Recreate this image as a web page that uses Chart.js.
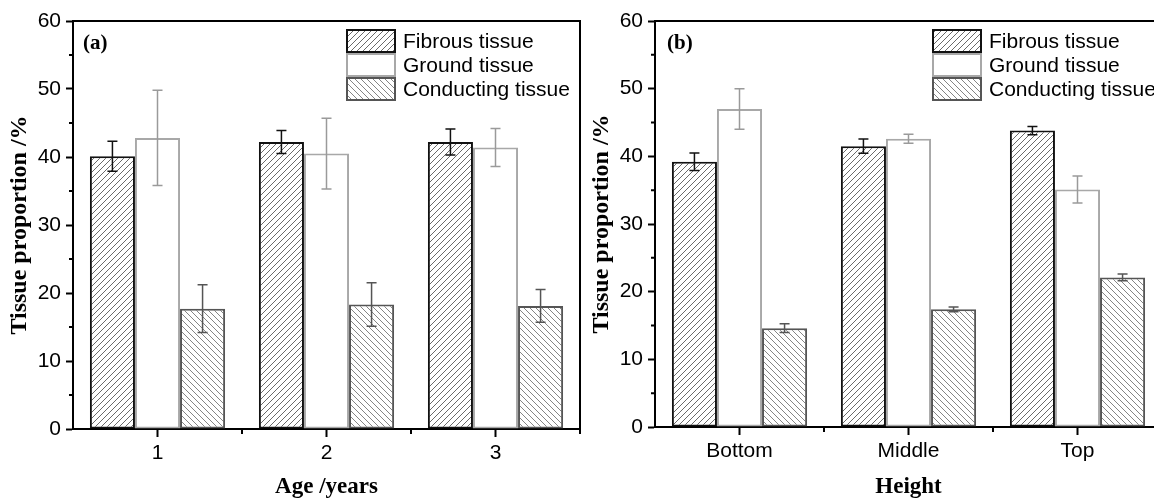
<!DOCTYPE html>
<html>
<head>
<meta charset="utf-8">
<script src="https://cdn.jsdelivr.net/npm/chart.js@4.4.1/dist/chart.umd.min.js"></script>
<style>
  html, body { margin: 0; padding: 0; background: #fff; width: 1154px; height: 499px; overflow: hidden; }
  #wrapA { position: absolute; left: 0; top: 0; }
  #wrapB { position: absolute; left: 582px; top: 0; }
</style>
</head>
<body>
<div id="wrapA"><canvas id="chartA" width="581" height="499"></canvas></div>
<div id="wrapB"><canvas id="chartB" width="581" height="499"></canvas></div>
<script>
// panel (a): by age
const ageLabels = ['1', '2', '3'];
const fibrousA = [40.1, 42.2, 42.2];
const fibrousAErr = [2.2, 1.7, 1.9];
const groundA = [42.8, 40.5, 41.4];
const groundAErr = [7.0, 5.2, 2.8];
const conductA = [17.7, 18.3, 18.1];
const conductAErr = [3.5, 3.2, 2.4];

// panel (b): by height
const heightLabels = ['Bottom', 'Middle', 'Top'];
const fibrousB = [39.2, 41.5, 43.8];
const fibrousBErr = [1.3, 1.05, 0.6];
const groundB = [47.0, 42.6, 35.1];
const groundBErr = [3.0, 0.65, 2.0];
const conductB = [14.6, 17.4, 22.1];
const conductBErr = [0.65, 0.35, 0.5];

const seriesNames = ['Fibrous tissue', 'Ground tissue', 'Conducting tissue'];
const yTicks = [0, 10, 20, 30, 40, 50, 60];

const sansFont = "'Liberation Sans', Arial, sans-serif";
const serifFont = "'Liberation Serif', 'Times New Roman', serif";

// hatch fill: dir 1 = "////", dir -1 = "\\\\"
function hatch(color, dir) {
    const s = 6;
    const c = document.createElement('canvas');
    c.width = s; c.height = s;
    const g = c.getContext('2d');
    g.fillStyle = '#fff';
    g.fillRect(0, 0, s, s);
    g.strokeStyle = color;
    g.lineWidth = 0.8;
    g.beginPath();
    if (dir > 0) {
        g.moveTo(-1, s + 1); g.lineTo(s + 1, -1);
        g.moveTo(-1, 1); g.lineTo(1, -1);
        g.moveTo(s - 1, s + 1); g.lineTo(s + 1, s - 1);
    } else {
        g.moveTo(-1, -1); g.lineTo(s + 1, s + 1);
        g.moveTo(s - 1, -1); g.lineTo(s + 1, 1);
        g.moveTo(-1, s - 1); g.lineTo(1, s + 1);
    }
    g.stroke();
    return g.createPattern(c, 'repeat');
}

const fills = [hatch('#444', 1), '#ffffff', hatch('#666', -1)];
const borders = ['#111111', '#a8a8a8', '#555555'];
const errColors = ['#111111', '#9a9a9a', '#555555'];

// error bars, legend, frame and minor ticks
const decorPlugin = {
    id: 'decor',
    afterDatasetsDraw(chart, args, opts) {
        const ctx = chart.ctx;
        const y = chart.scales.y;
        ctx.save();
        chart.data.datasets.forEach((ds, i) => {
            const meta = chart.getDatasetMeta(i);
            ctx.strokeStyle = errColors[i];
            ctx.lineWidth = 1.5;
            meta.data.forEach((bar, j) => {
                const v = ds.data[j], e = ds.err[j];
                const y1 = y.getPixelForValue(v + e);
                const y2 = y.getPixelForValue(v - e);
                ctx.beginPath();
                ctx.moveTo(bar.x, y1); ctx.lineTo(bar.x, y2);
                ctx.moveTo(bar.x - 5, y1); ctx.lineTo(bar.x + 5, y1);
                ctx.moveTo(bar.x - 5, y2); ctx.lineTo(bar.x + 5, y2);
                ctx.stroke();
            });
        });
        ctx.restore();
    },
    afterDraw(chart, args, opts) {
        const ctx = chart.ctx;
        const a = chart.chartArea;
        const x = chart.scales.x, y = chart.scales.y;
        ctx.save();
        // frame
        ctx.strokeStyle = '#000';
        ctx.lineWidth = 2;
        ctx.beginPath();
        ctx.moveTo(a.left, a.top); ctx.lineTo(a.right, a.top); ctx.lineTo(a.right, a.bottom);
        ctx.stroke();
        // minor ticks
        ctx.lineWidth = 2;
        ctx.beginPath();
        for (let v = 5; v < 60; v += 10) {
            const py = y.getPixelForValue(v);
            ctx.moveTo(a.left - 4, py); ctx.lineTo(a.left, py);
        }
        const n = chart.data.labels.length;
        for (let k = 0; k < n - 1; k++) {
            const px = (x.getPixelForValue(k) + x.getPixelForValue(k + 1)) / 2;
            ctx.moveTo(px, a.bottom); ctx.lineTo(px, a.bottom + 5);
        }
        ctx.moveTo(a.right, a.bottom); ctx.lineTo(a.right, a.bottom + 5);
        ctx.stroke();
        // panel tag
        ctx.fillStyle = '#000';
        ctx.font = 'bold 21px ' + serifFont;
        ctx.textBaseline = 'middle';
        ctx.textAlign = 'left';
        ctx.fillText(opts.tag, a.left + opts.tagDx, 44);
        // legend
        const lx = a.left + opts.legendDx;
        ctx.font = '21px ' + sansFont;
        chart.data.datasets.forEach((ds, i) => {
            const ly = 30 + i * 24;
            ctx.fillStyle = ds.backgroundColor;
            ctx.fillRect(lx, ly, 48, 22);
            ctx.strokeStyle = ds.borderColor;
            ctx.lineWidth = 2;
            ctx.strokeRect(lx, ly, 48, 22);
            ctx.fillStyle = '#000';
            ctx.fillText(ds.label, lx + 56, ly + 12);
        });
        ctx.restore();
    }
};

function makeChart(id, labels, vals, errs, xTitle, tag, legendDx, tagDx, axisH) {
    const datasets = vals.map((d, i) => ({
        label: seriesNames[i],
        data: d,
        err: errs[i],
        backgroundColor: fills[i],
        borderColor: borders[i],
        borderWidth: 2,
        borderSkipped: false,
        categoryPercentage: 0.8,
        barPercentage: 1.0
    }));
    return new Chart(document.getElementById(id).getContext('2d'), {
        type: 'bar',
        data: { labels: labels, datasets: datasets },
        plugins: [decorPlugin],
        options: {
            responsive: false,
            animation: false,
            layout: { padding: { top: 21, right: 1, left: 0, bottom: 0 } },
            plugins: {
                legend: { display: false },
                tooltip: { enabled: false },
                decor: { tag: tag, legendDx: legendDx, tagDx: tagDx }
            },
            scales: {
                x: {
                    afterFit: s => { s.height = axisH; },
                    grid: { offset: false, drawOnChartArea: false, drawTicks: true, tickLength: 8, tickWidth: 2, tickColor: '#000' },
                    border: { display: true, color: '#000', width: 2 },
                    ticks: { color: '#000', font: { family: sansFont, size: 21 }, padding: 4 },
                    title: { display: true, text: xTitle, color: '#000', font: { family: serifFont, size: 23, weight: 'bold' }, padding: { top: 0, bottom: -2 } }
                },
                y: {
                    min: 0,
                    max: 60,
                    afterFit: s => { s.width = 73; },
                    afterBuildTicks: s => { s.ticks = yTicks.map(v => ({ value: v })); },
                    grid: { drawOnChartArea: false, drawTicks: true, tickLength: 7, tickWidth: 2, tickColor: '#000' },
                    border: { display: true, color: '#000', width: 2 },
                    ticks: { color: '#000', font: { family: sansFont, size: 21 }, padding: 5 },
                    title: { display: true, text: 'Tissue proportion /%', color: '#000', font: { family: serifFont, size: 24, weight: 'bold' }, padding: { top: 5, bottom: 0 } }
                }
            }
        }
    });
}

makeChart('chartA', ageLabels, [fibrousA, groundA, conductA], [fibrousAErr, groundAErr, conductAErr], 'Age /years', '(a)', 274, 10, 70);
makeChart('chartB', heightLabels, [fibrousB, groundB, conductB], [fibrousBErr, groundBErr, conductBErr], 'Height', '(b)', 278, 12, 72);
</script>
</body>
</html>
